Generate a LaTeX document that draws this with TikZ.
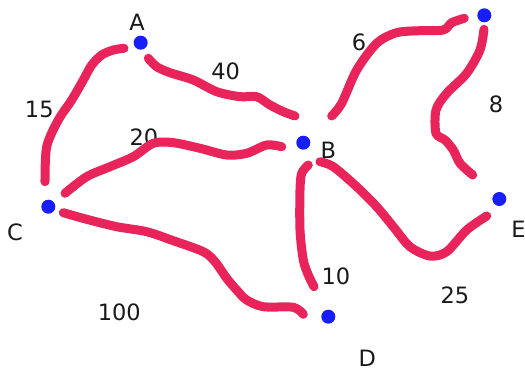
\documentclass[tikz,border=0pt]{standalone}
\usepackage{fontspec}
\setmainfont{DejaVu Sans}
\definecolor{stroke}{RGB}{232,36,90}
\definecolor{dotblue}{RGB}{24,30,250}
\definecolor{txt}{RGB}{25,25,25}
\begin{document}
\begin{tikzpicture}[x=1pt,y=-1pt,
  vert/.style={circle,fill=dotblue,inner sep=0pt,minimum size=14pt},
  lbl/.style={text=txt,inner sep=0pt,font=\fontsize{22.5}{27}\selectfont},
  ink/.style={draw=stroke,line width=9pt,line cap=round,line join=round}]
\useasboundingbox (0,0) rectangle (525,371);
% vertices
\node[vert] (A) at (140.7,42.7) {};
\node[vert] (B) at (303.3,142.7) {};
\node[vert] (C) at (48.3,206.7) {};
\node[vert] (D) at (328.3,316.7) {};
\node[vert] (E) at (499.3,199) {};
\node[vert] (F) at (484.3,15.3) {};
% vertex labels
\node[lbl] (lA) at (137,22.7) {A};
\node[lbl] (lB) at (328.3,150) {B};
\node[lbl] (lC) at (15,232.7) {C};
\node[lbl] (lD) at (367.3,358.5) {D};
\node[lbl] (lE) at (518.5,229.3) {E};
% weights
\node[lbl] (w15) at (39.3,109.3) {15};
\node[lbl] (w40) at (225.7,71) {40};
\node[lbl] (w20) at (144,137.7) {20};
\node[lbl] (w6) at (359,42.7) {6};
\node[lbl] (w8) at (496,104.3) {8};
\node[lbl] (w100) at (119.3,312.7) {100};
\node[lbl] (w10) at (336,276) {10};
\node[lbl] (w25) at (455,295) {25};
% strokes
\draw[ink] plot[smooth,tension=0.5] coordinates {(45,181.7) (46.7,146.7) (58.3,120) (71.7,100) (83.3,80) (91.7,65) (101.7,55) (113.3,50) (124,48.3)};
\draw[ink] plot[smooth,tension=0.5] coordinates {(148.3,58.3) (156.7,66.7) (170,72.7) (193.3,80) (216.7,91.7) (240,96.7) (256.7,96.7) (270,105) (283.3,111.7) (295,116)};
\draw[ink] plot[smooth,tension=0.5] coordinates {(65,193.3) (86.7,176.7) (110,166.7) (133.3,156.7) (153.3,143.3) (173.3,142.7) (200,148.3) (226.7,155) (246.7,153.3) (266.7,145) (281.7,146.7)};
\draw[ink] plot[smooth,tension=0.5] coordinates {(331.7,116) (341.7,103.3) (356.7,70) (376.7,43.3) (396.7,32.7) (420,30.7) (443.3,30) (451.7,22.7) (464.3,18.3)};
\draw[ink] plot[smooth,tension=0.5] coordinates {(484,29.3) (480,50) (466.7,73.3) (446.7,93.3) (436,110) (436,133.3) (445,140) (453.3,150) (460,163.3) (472.7,175)};
\draw[ink] plot[smooth,tension=0.5] coordinates {(63.3,212.7) (86.7,219.3) (116.7,226.7) (146.7,231.7) (173.3,240.7) (203.3,251.7) (215,261.7) (226.7,278.3) (236.7,290) (246.7,300) (263.3,306.7) (293.3,307.3) (303.3,314.3)};
\draw[ink] plot[smooth,tension=0.5] coordinates {(308.3,165) (301.7,173.3) (300,190) (300,230) (303.3,260) (308.3,275) (314,286.7)};
\draw[ink] plot[smooth,tension=0.5] coordinates {(320,161.7) (333.3,166.7) (356.7,186.7) (376.7,206.7) (393.3,226.7) (410,246.7) (430,256) (446.7,251.7) (466.7,230) (486.7,216)};
\end{tikzpicture}
\end{document}
